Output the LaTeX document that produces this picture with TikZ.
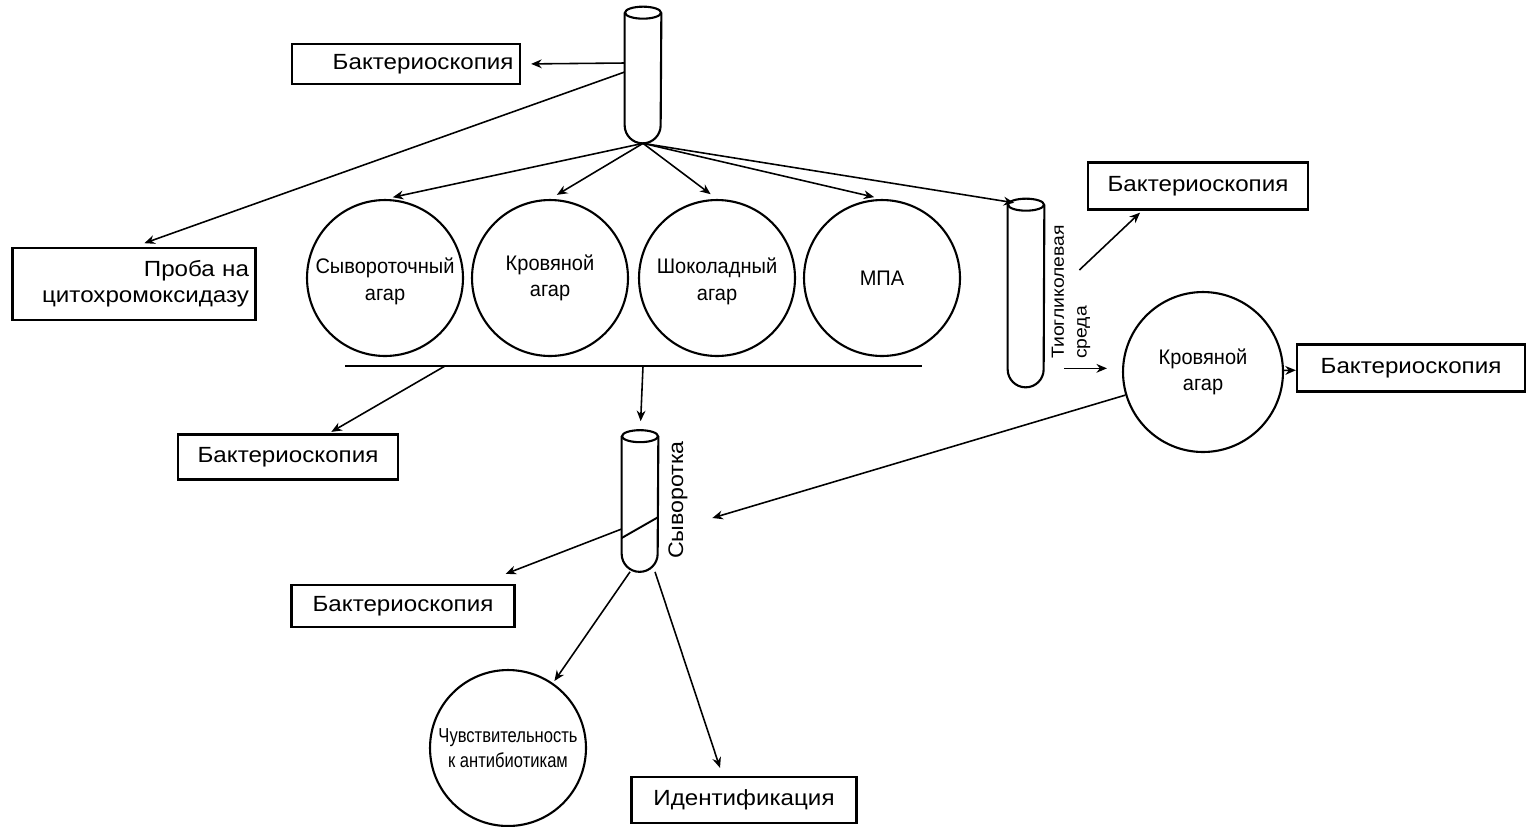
\documentclass[tikz,border=0pt]{standalone}
\usepackage{fontspec}
\setmainfont{Liberation Sans}[FakeStretch=1.1]
\newfontfamily\platefont{Liberation Sans}[FakeStretch=0.95]
\newfontfamily\narrowfont{Liberation Sans}[FakeStretch=0.82]
\usetikzlibrary{arrows.meta,positioning}

% test tube outline round a (tubebox) node
\newcommand{\drawtube}[1]{%
  \draw[line width=1.2pt] (#1.north west) -- ([yshift=0.36cm]#1.south west)
    arc[start angle=180, end angle=360, radius=0.36cm] -- (#1.north east);
  \draw[line width=1.2pt, fill=white] (#1.north) ellipse[x radius=0.36cm, y radius=0.12cm];
}

\tikzset{
  labelbox/.style={draw, line width=1.3pt, minimum width=4.45cm, minimum height=0.85cm,
    inner sep=2pt, font=\fontsize{12.5}{15}\selectfont},
  plate/.style={circle, draw, line width=1.2pt, minimum size=3.12cm, inner sep=0pt,
    align=center, font=\platefont\fontsize{12}{15}\selectfont},
  tubebox/.style={minimum width=0.72cm, inner sep=0pt},
  sidetext/.style={rotate=90, inner sep=0pt, align=left},
  flow/.style={-{Stealth[length=6pt,width=5pt]}, line width=0.9pt},
}

\begin{document}
\begin{tikzpicture}[x=0.02cm, y=-0.02cm]

    \useasboundingbox (0,0) rectangle (1533,826);

    % --- 1. Upper tube and its smear ---
    \node[tubebox, minimum height=2.6cm] (tubeTop) at (643,78) {};
    \drawtube{tubeTop}
    \node[labelbox, minimum width=4.56cm, minimum height=0.8cm, align=right, text width=4.3cm] (bakTop) at (406,64) {Бактериоскопия};
    \node[labelbox, minimum width=4.86cm, minimum height=1.44cm, align=right, text width=4.6cm] (proba) at (134,284) {Проба на\\цитохромоксидазу};

    \draw[flow, shorten >=0.2cm] ([yshift=0.3cm]tubeTop.west) -- (bakTop.east);
    \draw[flow, shorten >=0.22cm] ([yshift=0.12cm]tubeTop.west) -- (proba.north);

    % --- 2. Plates ---
    \node[plate] (plateSer) at (385,278) {\\[-0.2em]Сывороточный\\агар};
    \node[plate] (plateBlood) at (550,278) {Кровяной\\агар};
    \node[plate] (plateChoc) at (717,278) {\\[-0.2em]Шоколадный\\агар};
    \node[plate] (plateMpa) at (882,278) {МПА};

    \foreach \p in {plateSer, plateBlood, plateChoc, plateMpa}
        \draw[flow, shorten >=0.16cm] (tubeTop.south) -- (\p.north);

    % common base line under the plates
    \coordinate (baseL) at (345,366);
    \coordinate (baseR) at (922,366);
    \coordinate (baseA) at (445,366);
    \coordinate (baseB) at (643,366);
    \draw[line width=1.3pt] (baseL) -- (baseR);

    \node[labelbox, minimum width=4.4cm, minimum height=0.9cm] (bakLeft) at (288,457) {Бактериоскопия};
    \draw[flow, shorten >=0.06cm] (baseA) -- (bakLeft);

    % --- 3. Serum tube ---
    \node[tubebox, minimum height=2.7cm] (tubeSer) at (640,504) {};
    \drawtube{tubeSer}
    \draw[line width=1.1pt] ([yshift=-0.68cm]tubeSer.west) -- ([yshift=-0.26cm]tubeSer.east);
    \node[sidetext, font=\fontsize{12}{14}\selectfont] (serLabel) at (678,500) {Сыворотка};
    \draw[flow, shorten >=0.3cm] (baseB) -- (tubeSer.north);

    \node[labelbox, minimum width=4.46cm, minimum height=0.84cm] (bakSer) at (403,606) {Бактериоскопия};
    \node[plate, minimum size=3.12cm, font=\narrowfont\fontsize{11.5}{14}\selectfont] (sens) at (508,748) {Чувствительность\\к антибиотикам};
    \node[labelbox, minimum width=4.5cm, minimum height=0.92cm] (ident) at (744,800) {Идентификация};

    \draw[flow] ([yshift=-0.5cm]tubeSer.west) -- ([xshift=-0.2cm, yshift=0.2cm]bakSer.north east);
    \draw[flow, shorten >=0.05cm] ([xshift=-0.2cm]tubeSer.south) -- (sens);
    \draw[flow] ([xshift=0.3cm]tubeSer.south) -- ([xshift=-0.48cm, yshift=0.16cm]ident.north);

    % --- 4. Thioglycollate tube (right) ---
    \node[tubebox, minimum height=3.64cm] (tubeThio) at (1026,296) {};
    \drawtube{tubeThio}
    \node[sidetext, font=\fontsize{10}{13}\selectfont] (thioLabel) at (1071,292) {Тиогликолевая\\среда};
    \draw[flow, shorten >=0.24cm] (tubeTop.south) -- (tubeThio.north);

    \node[labelbox, minimum width=4.4cm, minimum height=0.94cm] (bakThio) at (1198,186) {Бактериоскопия};
    \node[plate, minimum size=3.2cm] (blood2) at (1203,372) {Кровяной\\агар};
    \node[labelbox, minimum width=4.56cm, minimum height=0.94cm] (bakRight) at (1411,368) {Бактериоскопия};

    \coordinate (thioOut) at ([xshift=0.4cm, yshift=0.38cm]tubeThio.south east);
    \draw[flow] ([xshift=0.7cm, yshift=0.52cm]tubeThio.east) -- ([xshift=-1.16cm, yshift=-0.04cm]bakThio.south);
    \draw[flow, shorten >=0.3cm] (thioOut) -- (thioOut -| blood2.west);
    \draw[flow] (blood2) -- (bakRight);
    \draw[flow] (blood2) -- ([xshift=1.08cm, yshift=-0.28cm]tubeSer.east);

\end{tikzpicture}
\end{document}
